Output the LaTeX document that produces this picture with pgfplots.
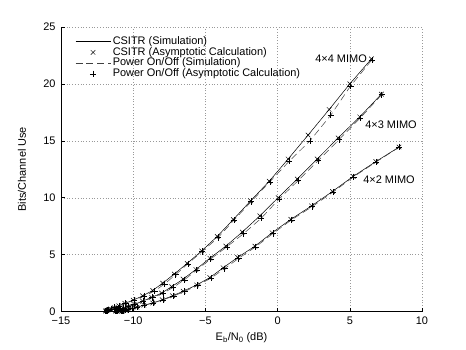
\documentclass[border=0pt]{standalone}
\usepackage{fontspec}
\setmainfont{Liberation Sans}
\usepackage{pgfplots}
\pgfplotsset{compat=1.18}
\pgfplotsset{
    lineleg/.style={legend image code/.code={\draw[##1] (0bp,0bp) -- (35bp,0bp);}},
    markleg/.style={legend image code/.code={\draw[##1] plot coordinates {(17.5bp,0bp)};}},
}
\newcommand{\lbl}{\fontsize{11}{13}\selectfont}

% 4x4 / 4x3 / 4x2 curves, one point per 2 dB of SNR (20 dB down to -26 dB)
\pgfplotstableread{
x y
6.50 22.20
5.00 20.00
3.57 17.75
2.11 15.50
0.73 13.40
-0.58 11.45
-1.87 9.72
-3.07 8.08
-4.18 6.60
-5.26 5.32
-6.26 4.23
-7.16 3.29
-7.96 2.49
-8.65 1.85
-9.35 1.37
-10.00 1.00
-10.58 0.71
-11.00 0.50
-11.32 0.34
-11.55 0.226
-11.70 0.148
-11.81 0.096
-11.88 0.061
-11.92 0.039
}\csitrA
\pgfplotstableread{
x y
6.52 22.10
5.04 19.80
3.68 17.25
2.24 15.00
0.80 13.20
-0.54 11.40
-1.83 9.65
-3.03 8.02
-4.12 6.50
-5.22 5.28
-6.22 4.19
-7.07 3.23
-7.83 2.42
-8.52 1.80
-9.26 1.34
-9.96 0.99
-10.56 0.705
-10.98 0.497
-11.31 0.338
-11.55 0.225
-11.70 0.147
-11.81 0.096
-11.88 0.061
-11.92 0.039
}\onoffA
\pgfplotstableread{
x y
7.19 19.10
5.69 17.10
4.19 15.25
2.74 13.40
1.36 11.64
0.04 10.00
-1.23 8.40
-2.45 6.98
-3.58 5.75
-4.69 4.68
-5.66 3.69
-6.54 2.85
-7.34 2.18
-8.03 1.62
-8.72 1.24
-9.35 0.91
-9.94 0.62
-10.35 0.43
-10.66 0.29
-10.87 0.195
-11.02 0.127
-11.12 0.082
-11.18 0.053
-11.23 0.034
}\csitrB
\pgfplotstableread{
x y
7.21 19.05
5.72 17.00
4.25 15.10
2.80 13.25
1.42 11.50
0.10 9.88
-1.13 8.20
-2.36 6.84
-3.52 5.68
-4.63 4.62
-5.60 3.64
-6.45 2.79
-7.23 2.12
-7.95 1.59
-8.66 1.22
-9.31 0.90
-9.92 0.617
-10.34 0.428
-10.66 0.289
-10.87 0.195
-11.02 0.127
-11.12 0.082
-11.18 0.053
-11.23 0.034
}\onoffB
\pgfplotstableread{
x y
8.41 14.45
6.80 13.17
5.23 11.87
3.80 10.55
2.35 9.28
0.92 8.10
-0.38 6.92
-1.57 5.74
-2.77 4.75
-3.77 3.84
-4.69 2.98
-5.61 2.33
-6.54 1.78
-7.27 1.38
-7.99 1.03
-8.65 0.75
-9.26 0.55
-9.74 0.375
-10.10 0.257
-10.37 0.172
-10.55 0.113
-10.67 0.074
-10.75 0.048
-10.80 0.031
}\csitrC
\pgfplotstableread{
x y
8.42 14.44
6.82 13.14
5.26 11.83
3.84 10.50
2.40 9.22
0.96 8.05
-0.33 6.85
-1.52 5.68
-2.70 4.67
-3.68 3.76
-4.62 2.93
-5.54 2.29
-6.46 1.75
-7.20 1.36
-7.94 1.02
-8.62 0.745
-9.24 0.548
-9.73 0.374
-10.10 0.257
-10.37 0.172
-10.55 0.113
-10.67 0.074
-10.75 0.048
-10.80 0.031
}\onoffC

\begin{document}
\begin{tikzpicture}
\useasboundingbox (-61bp,-38.5bp) rectangle (405bp,311.5bp);
\begin{axis}[
    at={(0,0)}, anchor=south west,
    scale only axis, width=361bp, height=284.5bp,
    xmin=-15, xmax=10, ymin=0, ymax=25,
    xtick={-15,-10,-5,0,5,10},
    xticklabels={−15,−10,−5,0,5,10},
    ytick={0,5,10,15,20,25},
    axis x line*=bottom, axis y line*=left,
    tick align=inside, major tick length=4bp,
    every tick/.style={black, line width=0.5pt},
    axis line style={black, line width=0.5pt},
    grid=major,
    grid style={gray!80, line width=0.4pt, dash pattern=on 0.8pt off 2pt},
    tick label style={font=\lbl},
    xticklabel style={yshift=-2bp},
    yticklabel style={xshift=-2bp},
    /pgf/number format/assume math mode=true,
    every axis y label/.style={at={(axis description cs:-0.108,0.5)}, rotate=90, anchor=center},
    every axis x label/.style={at={(axis description cs:0.5,-0.093)}, anchor=center},
    label style={font=\lbl},
    xlabel={E\textsubscript{b}/N\textsubscript{0} (dB)},
    ylabel={Bits/Channel Use},
    clip=false,
    legend cell align=left,
    legend style={at={(0.039,0.967)}, anchor=north west, draw=none, fill=none,
        font=\lbl, inner sep=0pt, row sep=0.5bp, column sep=2bp,
        nodes={inner sep=0pt, text height=7.9bp, text depth=2.3bp}},
]
% 4x4 (these four give the legend)
\addplot[black, line width=0.5pt, lineleg] table {\csitrA};
\addplot[black, only marks, mark=x, mark size=3.2pt, line width=0.5pt, markleg] table {\csitrA};
\addplot[black!75, line width=0.5pt, dash pattern=on 7pt off 4pt, lineleg] table {\onoffA};
\addplot[black, only marks, mark=+, mark size=3.2pt, line width=0.5pt, markleg] table {\onoffA};
\legend{CSITR (Simulation), CSITR (Asymptotic Calculation),
    Power On/Off (Simulation), Power On/Off (Asymptotic Calculation)}
% 4x3
\addplot[black, line width=0.5pt, forget plot] table {\csitrB};
\addplot[black, only marks, mark=x, mark size=3.2pt, line width=0.5pt, forget plot] table {\csitrB};
\addplot[black!75, line width=0.5pt, dash pattern=on 7pt off 4pt, forget plot] table {\onoffB};
\addplot[black, only marks, mark=+, mark size=3.2pt, line width=0.5pt, forget plot] table {\onoffB};
% 4x2
\addplot[black, line width=0.5pt, forget plot] table {\csitrC};
\addplot[black, only marks, mark=x, mark size=3.2pt, line width=0.5pt, forget plot] table {\csitrC};
\addplot[black!75, line width=0.5pt, dash pattern=on 7pt off 4pt, forget plot] table {\onoffC};
\addplot[black, only marks, mark=+, mark size=3.2pt, line width=0.5pt, forget plot] table {\onoffC};

\node[anchor=west, font=\lbl] at (axis cs:2.37,22.2) {4×4 MIMO};
\node[anchor=west, font=\lbl] at (axis cs:5.83,16.4) {4×3 MIMO};
\node[anchor=west, font=\lbl] at (axis cs:5.69,11.55) {4×2 MIMO};
\end{axis}
\end{tikzpicture}
\end{document}
